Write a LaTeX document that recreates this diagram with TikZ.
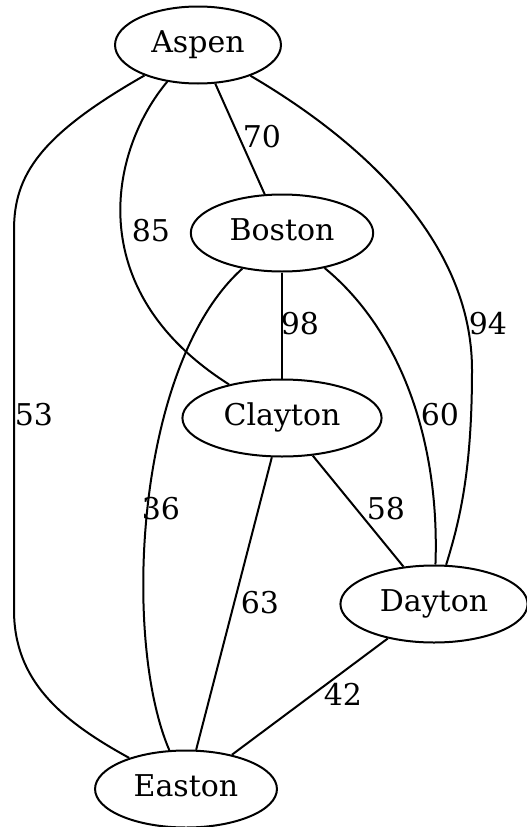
\documentclass[tikz,border=0pt]{standalone}
\usepackage{fontspec}
\setmainfont{DejaVu Serif}
\usetikzlibrary{shapes.geometric}
\begin{document}
\begin{tikzpicture}[x=1pt, y=-1pt, line width=2pt,
    city/.style={ellipse, draw, inner xsep=12pt, inner ysep=4pt, minimum height=77pt,
      text height=22pt, text depth=8pt, font=\fontsize{30}{36}\selectfont},
    dist/.style={inner sep=0pt, text height=22pt, text depth=0pt, font=\fontsize{30}{36}\selectfont}]
  \useasboundingbox (0,0) rectangle (527,827);
  \node[city] (a) at (198,45) {Aspen};
  \node[city] (b) at (282,233) {Boston};
  \node[city] (c) at (282,418) {Clayton};
  \node[city] (d) at (434,604) {Dayton};
  \node[city] (e) at (186,789) {Easton};

  \draw (a) .. controls (40,135) and (14,175) .. (14,230) -- (14,610)
    .. controls (14,680) and (60,720) .. (e);
  \draw (a) .. controls (110,150) and (80,290) .. (c);
  \draw (a) -- (b);
  \draw (a) .. controls (360,140) and (472,240) .. (472,370)
    .. controls (472,470) and (460,520) .. (d);
  \draw (b) -- (c);
  \draw (b) .. controls (135,365) and (122,640) .. (e);
  \draw (b) .. controls (400,330) and (440,440) .. (d);
  \draw (c) -- (d);
  \draw (c) -- (e);
  \draw (d) -- (e);

  \node[dist] (l70) at (262,136) {70};
  \node[dist] (l85) at (151,230) {85};
  \node[dist] (l98) at (300,323) {98};
  \node[dist] (l94) at (488,323) {94};
  \node[dist] (l53) at (34,414) {53};
  \node[dist] (l60) at (440,414) {60};
  \node[dist] (l36) at (161,508) {36};
  \node[dist] (l58) at (386,508) {58};
  \node[dist] (l63) at (260,602) {63};
  \node[dist] (l42) at (343,694) {42};
\end{tikzpicture}
\end{document}
